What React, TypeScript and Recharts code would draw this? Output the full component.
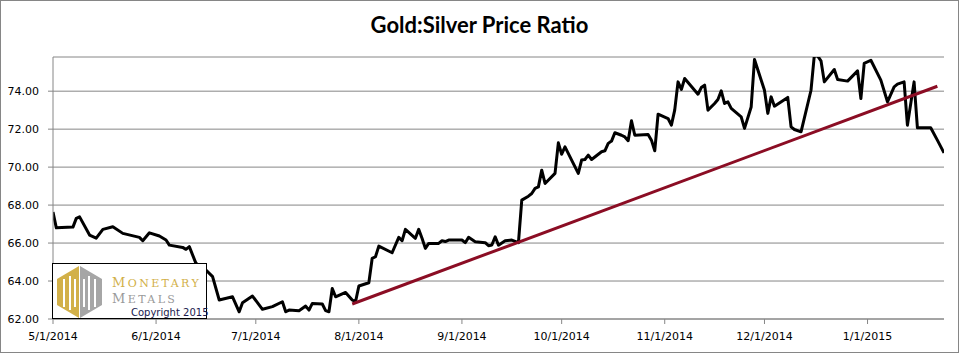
import { LineChart, Line, XAxis, YAxis, CartesianGrid } from 'recharts'

// day offsets from 5/1/2014 and the gold:silver ratio
const days = [
  0, 1, 6, 7, 8, 11, 13, 15, 18, 21, 26, 27, 29, 32, 34, 35, 39, 40, 41, 43,
  46, 48, 50, 54, 56, 57, 60, 63, 66, 69, 70, 71, 74, 76, 77, 78, 81, 82, 83, 84,
  85, 88, 90, 91, 92, 95, 96, 97, 98, 102, 104, 105, 106, 109, 110, 111, 112, 113, 116, 117,
  118, 119, 123, 124, 125, 127, 130, 131, 132, 133, 134, 136, 138, 140, 141, 143, 144, 145, 146, 147,
  148, 151, 152, 153, 154, 158, 159, 160, 161, 162, 165, 166, 167, 168, 169, 171, 172, 173, 174, 175,
  179, 180, 181, 182, 185, 186, 187, 188, 189, 190, 194, 195, 196, 197, 199, 200, 201, 202, 203, 204,
  207, 208, 210, 211, 214, 215, 216, 217, 221, 222, 223, 225, 228, 229, 230, 231, 232, 235, 236, 239,
  242, 243, 244, 246, 249, 251, 253, 254, 256, 257, 259, 260, 264, 266, 268,
]
const ratios = [
  67.63, 66.8, 66.84, 67.3, 67.38, 66.42, 66.26, 66.72, 66.86, 66.51, 66.3, 66.12, 66.54, 66.37, 66.16, 65.89, 65.77, 65.67, 65.81, 64.93,
  64.58, 64.23, 63.0, 63.17, 62.38, 62.86, 63.21, 62.51, 62.65, 62.91, 62.38, 62.47, 62.44, 62.68, 62.47, 62.82, 62.79, 62.44, 62.38, 63.61,
  63.17, 63.4, 63.0, 62.91, 63.74, 63.91, 65.19, 65.28, 65.84, 65.49, 66.3, 66.12, 66.72, 66.25, 66.72, 66.25, 65.72, 65.98, 65.98, 66.12,
  66.08, 66.16, 66.16, 66.02, 66.3, 66.07, 66.02, 65.86, 65.9, 66.33, 65.89, 66.12, 66.16, 66.02, 68.26, 68.47, 68.61, 68.88, 68.96, 69.84,
  69.14, 69.67, 71.28, 70.68, 71.07, 69.67, 70.37, 70.4, 70.63, 70.4, 70.81, 70.86, 71.25, 71.37, 71.81, 71.68, 71.59, 71.39, 72.44, 71.68,
  71.72, 71.42, 70.86, 72.79, 72.56, 72.21, 73.0, 74.49, 74.09, 74.67, 73.84, 74.19, 74.32, 73.0, 73.35, 73.56, 74.02, 73.35, 73.44, 73.09,
  72.65, 72.04, 73.17, 75.67, 74.05, 72.83, 73.7, 73.21, 73.67, 72.12, 71.98, 71.86, 74.05, 75.9, 75.85, 75.6, 74.49, 75.14, 74.61, 74.53,
  75.07, 73.61, 75.46, 75.63, 74.58, 73.44, 74.23, 74.37, 74.49, 72.21, 74.49, 72.07, 72.07, 71.42, 70.75,
]

// trend line end points
const trendDays = [90, 266]
const trendValues = [62.79, 74.26]

const monthLabels = [
  '5/1/2014', '6/1/2014', '7/1/2014', '8/1/2014', '9/1/2014',
  '10/1/2014', '11/1/2014', '12/1/2014', '1/1/2015',
]
const yTicks = [62, 64, 66, 68, 70, 72, 74]

const toUtc = (s: string) => {
  const [m, d, y] = s.split('/').map(Number)
  return Date.UTC(y, m - 1, d)
}
const DAY = 86400000
const start = toUtc(monthLabels[0])
const monthTicks = monthLabels.map((l) => Math.round((toUtc(l) - start) / DAY))
const labelFor = (v: number) => monthLabels[monthTicks.indexOf(v)] ?? ''

const series = days.map((d, i) => ({ day: d, ratio: ratios[i] }))
const trend = trendDays.map((d, i) => ({ day: d, ratio: trendValues[i] }))

const GRID = '#868686'
const tickFont = { fontFamily: 'DejaVu Sans', fontSize: 11, fill: '#000' }

function LogoWord({ word, color, top }: { word: string; color: string; top: number }) {
  return (
    <div
      style={{
        position: 'absolute', left: 59, top, fontFamily: 'DejaVu Serif', color,
        letterSpacing: 2.4, whiteSpace: 'nowrap', lineHeight: '12px', height: 12,
      }}
    >
      <span style={{ fontSize: 13 }}>{word[0]}</span>
      <span style={{ fontSize: 11 }}>{word.slice(1)}</span>
    </div>
  )
}

function Logo() {
  return (
    <div
      style={{
        position: 'absolute', left: 52, top: 263, width: 155, height: 56,
        background: '#fff', border: '1px solid #000', boxSizing: 'border-box',
      }}
    >
      <svg width={50} height={54} style={{ position: 'absolute', left: 2, top: 1 }}>
        {/* gold left half */}
        <polygon points="24,1 24,53 2,40 2,14" fill="#D2B048" />
        {/* gray right half */}
        <polygon points="25,1 47,14 47,40 25,53" fill="#A6A6A6" />
        {/* white strokes of the two M shapes */}
        <rect x={8} y={14} width={2} height={28} fill="#fff" />
        <rect x={14} y={11} width={2} height={34} fill="#fff" />
        <rect x={19} y={14} width={2} height={28} fill="#fff" />
        <rect x={28} y={14} width={2} height={28} fill="#fff" />
        <rect x={33} y={11} width={2} height={34} fill="#fff" />
        <rect x={39} y={14} width={2} height={28} fill="#fff" />
      </svg>
      <LogoWord word="MONETARY" color="#D2B048" top={12} />
      <LogoWord word="METALS" color="#9A9A9A" top={28} />
      <div
        style={{
          position: 'absolute', left: 78, top: 43, fontFamily: 'DejaVu Sans',
          fontSize: 10, color: '#1a1a4e', lineHeight: '11px', whiteSpace: 'nowrap',
        }}
      >
        Copyright 2015
      </div>
    </div>
  )
}

export default function App() {
  return (
    <div
      style={{
        position: 'absolute', left: 0, top: 0, width: 959, height: 353,
        background: '#fff', boxShadow: `inset 0 0 0 1px ${GRID}`,
      }}
    >
      {/* Title */}
      <div
        style={{
          position: 'absolute', left: 0, top: 13, width: 959, textAlign: 'center',
          fontFamily: 'Lato', fontWeight: 700, fontSize: 22, lineHeight: '24px', color: '#000',
        }}
      >
        Gold:Silver Price Ratio
      </div>

      <LineChart
        width={959}
        height={353}
        margin={{ top: 57, right: 15, bottom: 9, left: 8 }}
        style={{ position: 'absolute', left: 0, top: 0 }}
      >
        <CartesianGrid vertical={false} stroke={GRID} strokeWidth={1} />
        <XAxis
          type="number"
          dataKey="day"
          domain={[0, 268]}
          ticks={monthTicks}
          tickFormatter={labelFor}
          tick={tickFont}
          axisLine={{ stroke: GRID }}
          tickLine={{ stroke: GRID }}
          tickSize={5}
          tickMargin={8}
          height={25}
          allowDataOverflow
        />
        <YAxis
          type="number"
          domain={[62, 75.8]}
          ticks={yTicks}
          tickFormatter={(v: number) => v.toFixed(2)}
          tick={tickFont}
          axisLine={{ stroke: GRID }}
          tickLine={{ stroke: GRID }}
          tickSize={5}
          tickMargin={9}
          width={45}
          allowDataOverflow
        />
        <Line
          data={series}
          dataKey="ratio"
          stroke="#000"
          strokeWidth={3}
          dot={false}
          isAnimationActive={false}
          strokeLinejoin="round"
        />
        <Line
          data={trend}
          dataKey="ratio"
          stroke="#8B0D24"
          strokeWidth={3}
          dot={false}
          isAnimationActive={false}
        />
      </LineChart>

      <Logo />
    </div>
  )
}
